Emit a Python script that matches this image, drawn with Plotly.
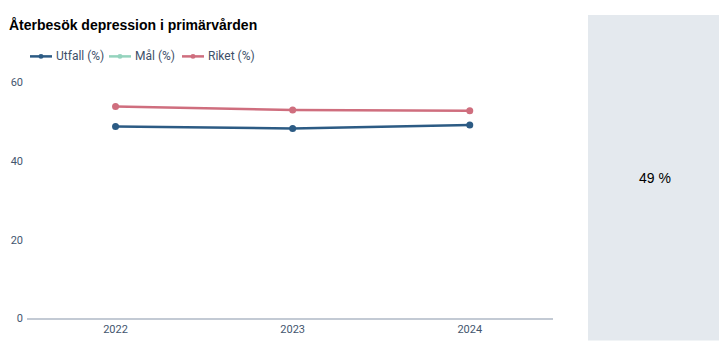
import plotly.graph_objects as go

years = ["2022", "2023", "2024"]
utfall = [48.8, 48.3, 49.2]
mal = [None, None, None]
riket = [53.9, 53.0, 52.8]
y_ticks = [0, 20, 40, 60]
kpi_text = "49 %"

series_names = ["Utfall (%)", "Mål (%)", "Riket (%)"]
series_colors = ["#2c5b84", "#94d3bd", "#cf6e7e"]
series_values = [utfall, mal, riket]

W, H = 727, 355
OFF = 8  # page body margin


def px(x):
    return (x - OFF) / W


def py(y):
    return 1 - (y - OFF) / H


xpos = list(range(len(years)))

fig = go.Figure()
for name, color, vals in zip(series_names, series_colors, series_values):
    fig.add_trace(go.Scatter(x=xpos, y=vals, name=name, mode="lines+markers", showlegend=False,
                             line=dict(color=color, width=2.5), marker=dict(size=7)))

shapes = [dict(type="rect", xref="paper", yref="paper",
               x0=px(588), x1=px(724), y0=py(347), y1=py(9),
               fillcolor="#e4e9ee", line=dict(width=0), layer="below")]
annotations = [
    dict(text="<b>Återbesök depression i primärvården</b>", xref="paper", yref="paper",
         x=px(7), y=py(19), xanchor="left", yanchor="middle", showarrow=False,
         font=dict(family="Liberation Sans", size=14, color="#000000")),
    dict(text=kpi_text, xref="paper", yref="paper",
         x=px(655), y=py(178), xanchor="center", yanchor="middle", showarrow=False,
         font=dict(family="Liberation Sans", size=14, color="#000000")),
]

# custom compact legend
leg_y = 52
leg_starts = [30, 109, 182]
for name, color, x0 in zip(series_names, series_colors, leg_starts):
    shapes.append(dict(type="line", xref="paper", yref="paper",
                       x0=px(x0), x1=px(x0 + 22), y0=py(leg_y), y1=py(leg_y),
                       line=dict(color=color, width=2.5)))
    shapes.append(dict(type="circle", xref="paper", yref="paper",
                       x0=px(x0 + 11 - 2.5), x1=px(x0 + 11 + 2.5),
                       y0=py(leg_y + 2.5), y1=py(leg_y - 2.5),
                       fillcolor=color, line=dict(width=0)))
    annotations.append(dict(text=name, xref="paper", yref="paper",
                            x=px(x0 + 24), y=py(leg_y), xanchor="left", yanchor="middle",
                            showarrow=False,
                            font=dict(family="Roboto", size=12, color="#3d4f68")))

fig.update_layout(
    width=W, height=H,
    margin=dict(l=0, r=0, t=0, b=0),
    paper_bgcolor="white", plot_bgcolor="white",
    font=dict(family="Roboto", size=11, color="#44566e"),
    showlegend=False,
    xaxis=dict(domain=[px(27), px(553)], range=[-0.5, 2.47],
               tickmode="array", tickvals=xpos, ticktext=years,
               showgrid=False, zeroline=False, showline=True, linecolor="#c3cad4", linewidth=1.5,
               ticks="", tickfont=dict(size=11, color="#44566e")),
    yaxis=dict(domain=[py(324), py(79)], range=[0, 60],
               tickvals=y_ticks, showgrid=False, zeroline=False, showline=False,
               ticks="", ticklabelstandoff=3, tickfont=dict(size=11, color="#44566e")),
    shapes=shapes,
    annotations=annotations,
)

fig.write_html("out.html", config={"displayModeBar": False})
